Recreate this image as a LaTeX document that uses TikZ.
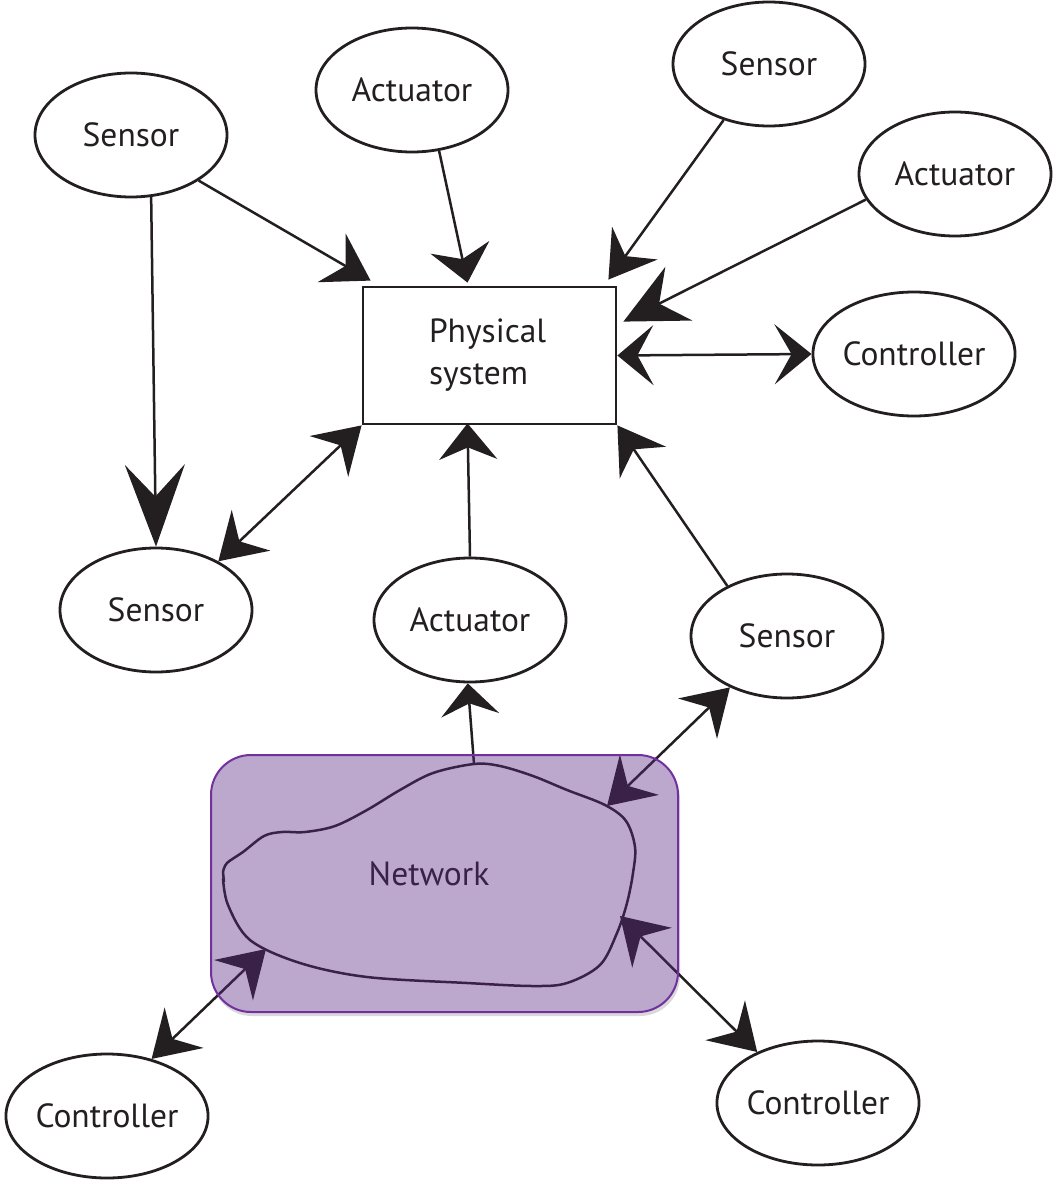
\documentclass[tikz,border=0pt]{standalone}
\usepackage{fontspec}
\setmainfont{PT Sans}
\usetikzlibrary{arrows.meta,calc,shapes.geometric}
\definecolor{ink}{HTML}{231F20}
\definecolor{netfill}{HTML}{5A2683}
\definecolor{netedge}{HTML}{7030A0}
\begin{document}
\begin{tikzpicture}[x=1pt,y=-1pt,
  unit/.style={ellipse,draw=ink,line width=2.8pt,fill=white,
    minimum width=192pt,minimum height=124pt,inner sep=0pt,
    font=\fontsize{33.5}{40}\selectfont,text=ink},
  plant/.style={rectangle,draw=ink,line width=2.8pt,fill=white,
    minimum width=253pt,minimum height=137pt,inner sep=0pt,
    text width=121pt,align=left,
    font=\fontsize{33.5}{42}\selectfont,text=ink},
  link/.style={draw=ink,line width=2.5pt},
  cloudpanel/.style={rounded corners=40pt,minimum width=467pt,minimum height=257pt,inner sep=0pt},
  >={Stealth[length=45pt,width=56pt,inset=16pt]},
]
\useasboundingbox (0,0) rectangle (1052,1182);

% devices around the plant
\node[unit] (s1) at (131,135) {Sensor};
\node[unit] (a1) at (412,90) {Actuator};
\node[unit] (s2) at (769,64) {Sensor};
\node[unit] (a2) at (955,174) {Actuator};
\node[unit] (c1) at (914,354) {Controller};
\node[unit] (s3) at (156,610) {Sensor};
\node[unit] (a3) at (470,620) {Actuator};
\node[unit] (s4) at (787,636) {Sensor};
\node[unit] (c2) at (107,1116) {Controller};
\node[unit] (c3) at (818,1103) {Controller};
\node[plant] (ps) at (489.5,355.5) {Physical\\system};

% network panel: soft shadow and white base
\fill[black,opacity=0.15,rounded corners=40pt] (212,759) rectangle (680,1016);
\fill[white,rounded corners=40pt] (211,755) rectangle (678,1012);
\node[font=\fontsize{33.5}{40}\selectfont,text=ink] (nt) at (429,874) {Network};

% network cloud outline
\draw[ink,line width=2.5pt] (224,882) -- (223,872)
  plot[smooth,tension=0.55] coordinates {(223,872) (227,863) (243,852) (264,836)
  (282,832) (305,832) (335,826) (367,810) (400,790) (433,773) (474,764)
  (500,766) (533,776) (567,790) (605,805) (626,821) (635,847) (633,873)
  (627,903) (617,933) (600,965) (567,983) (533,986) (467,983) (367,977)
  (300,963) (250,940) (228,905) (223,878)};
\coordinate (ntop) at (474,764);
\coordinate (nk) at (607,806);
\coordinate (nl) at (266,949);
\coordinate (nm) at (620,916);

% connectors
\draw[link,->] (s1.-34) -- ($(ps.north west)+(9,-5)$);
\draw[link,-{Stealth[length=36pt,width=60pt,inset=12pt]}] (a1.-66) -- ($(ps.north)+(-22,-3)$);
\draw[link,->] (s2.-129) -- ($(ps.north east)+(-9,-6)$);
\draw[link,-{Stealth[length=62pt,width=60pt,inset=22pt]}] (a2.-164) -- ($(ps.north east)+(6,36)$);
\draw[link,{Stealth[length=36pt,width=60pt,inset=16pt]}-{Stealth[length=37pt,width=60pt,inset=17pt]}] (ps.east) -- (c1.west);
\draw[link,-{Stealth[length=82pt,width=60pt,inset=32pt]}] (s1.-72) -- (s3.north);
\draw[link,<->] (s3.38) -- (ps.south west);
\draw[link,-{Stealth[length=36pt,width=58pt,inset=12pt]}] (a3.north) -- ($(ps.south)+(-22,-2)$);
\draw[link,->] (s4.140) -- (ps.south east);
\draw[link,-{Stealth[length=32pt,width=58pt,inset=12pt]}] (ntop) -- (a3.-92);
\draw[link,<->] (s4.-138) -- (nk);
\draw[link,<->] (c2.52) -- (nl);
\draw[link,<->] (c3.140) -- (nm);

% translucent network panel on top
\node[cloudpanel,fill=netfill,fill opacity=0.40,draw=netedge,line width=2pt] (net) at (444.5,883.5) {};
\end{tikzpicture}
\end{document}
